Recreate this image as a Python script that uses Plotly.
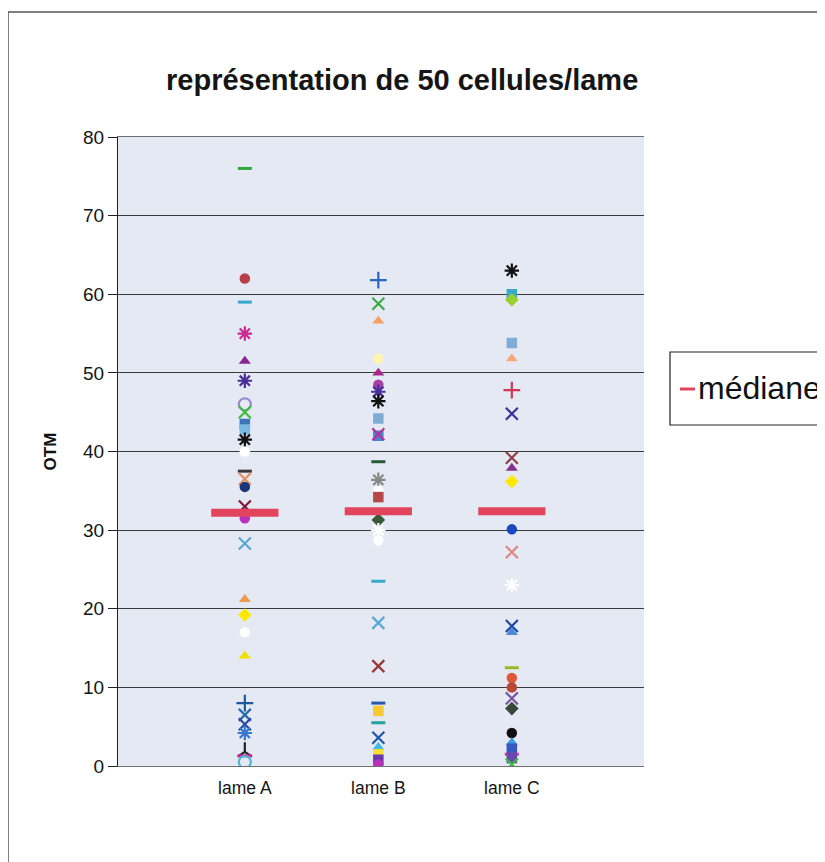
import plotly.graph_objects as go

# ---------------- data ----------------
CATEGORIES = ["lame A", "lame B", "lame C"]
Y_TICKS = [0, 10, 20, 30, 40, 50, 60, 70, 80]
MEDIAN_LABEL = "médiane"
MEDIANS = [32.2, 32.4, 32.4]

LAME_A = [76.0, 62.0, 59.0, 55.0, 51.5, 49.0, 46.0, 45.0, 43.5, 42.8, 41.5, 40.0,
          37.5, 36.5, 35.5, 33.0, 31.5, 28.3, 21.2, 19.2, 17.0, 14.0, 8.0, 6.5,
          5.3, 4.2, 1.8, 1.3, 0.5]
LAME_B = [61.8, 58.8, 56.6, 51.8, 50.0, 48.5, 47.6, 46.4, 44.2, 42.0, 42.2, 38.7,
          36.4, 35.0, 34.2, 31.3, 30.0, 28.7, 23.5, 18.2, 12.7, 8.0, 7.0, 5.5,
          3.6, 2.4, 1.5, 0.8, 0.2]
LAME_C = [63.0, 60.0, 59.3, 53.8, 51.8, 47.8, 44.8, 39.2, 37.9, 36.2, 30.1, 27.2,
          23.0, 17.8, 17.0, 12.5, 11.2, 10.0, 8.6, 7.3, 4.2, 3.0, 2.2, 1.5, 1.0, 0.2]

# ---------------- styles (parallel to the value lists) ----------------
SYM_A = ["line-ew-open", "circle", "line-ew-open", "asterisk-open", "triangle-up",
         "asterisk-open", "circle-open", "x-thin-open", "square", "square",
         "asterisk-open", "circle", "line-ew-open", "x-thin-open", "circle",
         "x-thin-open", "circle", "x-thin-open", "triangle-up", "diamond", "circle",
         "triangle-up", "cross-thin-open", "x-thin-open", "x-thin-open",
         "asterisk-open", "y-up-open", "line-ew-open", "circle-open"]
COL_A = ["#2fa83a", "#b8404a", "#3aa8c8", "#cc2a90", "#8a2590",
         "#4a2e98", "#9a8ad0", "#3cbc3c", "#3f74b8", "#7ab8e0",
         "#111111", "#ffffff", "#383838", "#e09060", "#1a3578",
         "#80183a", "#bb30bb", "#5aa8d0", "#f09a50", "#ffe800", "#ffffff",
         "#f0e000", "#1a58a0", "#2a68b0", "#2a48a0",
         "#3a78d0", "#222222", "#cc2a90", "#4ab8da"]

SYM_B = ["cross-thin-open", "x-thin-open", "triangle-up", "circle", "triangle-up",
         "circle", "asterisk-open", "asterisk-open", "square", "square",
         "x-thin-open", "line-ew-open", "asterisk-open", "circle", "square",
         "diamond", "asterisk-open", "circle", "line-ew-open", "x-thin-open",
         "x-thin-open", "line-ew-open", "square", "line-ew-open", "x-thin-open",
         "triangle-up", "square", "square", "circle"]
COL_B = ["#2a68c0", "#3caa44", "#f4a068", "#fff4b0", "#a82888",
         "#a840a8", "#4a2e98", "#111111", "#80acd4", "#4088d0",
         "#bb3098", "#285a38", "#888888", "#ffffff", "#b84848",
         "#385838", "#ffffff", "#ffffff", "#3aa8c8", "#5aa8d8",
         "#983838", "#2a58b0", "#f8c830", "#28a0a0", "#1a58b0",
         "#40b8e8", "#f8e030", "#6838b0", "#bb30bb"]

SYM_C = ["asterisk-open", "square", "diamond", "square", "triangle-up",
         "cross-thin-open", "x-thin-open", "x-thin-open", "triangle-up", "diamond",
         "circle", "x-thin-open", "asterisk-open", "x-thin-open", "triangle-up",
         "line-ew-open", "circle", "circle", "x-thin-open", "diamond",
         "circle", "triangle-up", "square", "line-ew-open", "square", "x-thin-open"]
COL_C = ["#111111", "#3aa8c8", "#98d030", "#80acd8", "#f8a878",
         "#d03858", "#42309a", "#904048", "#883090", "#ffe800",
         "#1a48c0", "#e08888", "#ffffff", "#1a4aa0", "#5088d8",
         "#98b828", "#e05838", "#b84838", "#7858a0", "#384838",
         "#111111", "#3898e0", "#3858c0", "#d03898", "#6848b0", "#38bb38"]

MEDIAN_COLOR = "#e2445e"

# ---------------- geometry (page body has an 8px margin) ----------------
OFF = 8
W, H = 825 - OFF, 862 - OFF
L, R, T, B = 118 - OFF, 644 - OFF, 137 - OFF, 766 - OFF
pw, ph = R - L, B - T


def px_x(x):
    return (x - OFF - L) / pw


def px_y(y):
    return 1 - (y - OFF - T) / ph


fig = go.Figure()


def add_lame(pos, values, symbols, colors):
    sizes, widths = [], []
    for s in symbols:
        if s == "line-ew-open":
            sizes.append(10)
            widths.append(3)
        elif s.endswith("-open"):
            sizes.append(12)
            widths.append(2.2)
        else:
            sizes.append(10.5)
            widths.append(0)
    fig.add_trace(go.Scatter(
        x=[pos] * len(values), y=values, mode="markers", showlegend=False,
        hoverinfo="y",
        marker=dict(symbol=symbols, color=colors, size=sizes, opacity=1,
                    line=dict(width=widths, color=colors)),
    ))


for i, (vals, syms, cols) in enumerate([(LAME_A, SYM_A, COL_A),
                                        (LAME_B, SYM_B, COL_B),
                                        (LAME_C, SYM_C, COL_C)]):
    add_lame(i + 1, vals, syms, cols)

fig.add_trace(go.Scatter(
    x=[1, 2, 3], y=MEDIANS, mode="markers", name=MEDIAN_LABEL, showlegend=False,
    marker=dict(symbol="line-ew-open", size=48, color=MEDIAN_COLOR, opacity=1,
                line=dict(width=8, color=MEDIAN_COLOR)),
))

fig.update_layout(
    width=W, height=H,
    margin=dict(l=L, r=W - R, t=T, b=H - B, autoexpand=False),
    paper_bgcolor="white",
    plot_bgcolor="#e4e9f3",
    font=dict(family="Liberation Sans, Arial, sans-serif", color="#111111"),
    showlegend=False,
    xaxis=dict(range=[0.05, 3.99], tickmode="array", tickvals=[1, 2, 3],
               ticktext=CATEGORIES, ticks="", showgrid=False, zeroline=False,
               showline=True, linecolor="#707070", linewidth=1, mirror=True,
               ticklabelstandoff=6,
               tickfont=dict(size=17.5, color="#151515")),
    yaxis=dict(range=[0, 80], tickmode="array", tickvals=Y_TICKS,
               ticks="outside", ticklen=9, tickcolor="#222222",
               showgrid=True, gridcolor="#3a3a3a", gridwidth=1, zeroline=False,
               showline=True, linecolor="#222222", linewidth=1.2,
               tickfont=dict(size=19, color="#151515"),
               title=dict(text="<b>OTM</b>", font=dict(size=17), standoff=22)),
    shapes=[
        # outer chart-area frame
        dict(type="rect", xref="paper", yref="paper",
             x0=px_x(8), x1=px_x(870), y0=px_y(900), y1=px_y(12),
             line=dict(color="#555555", width=1.5), fillcolor="rgba(0,0,0,0)",
             layer="below"),
        # legend box
        dict(type="rect", xref="paper", yref="paper",
             x0=px_x(670), x1=px_x(860), y0=px_y(425), y1=px_y(352),
             line=dict(color="#222222", width=1.2), fillcolor="white"),
        # legend symbol
        dict(type="line", xref="paper", yref="paper",
             x0=px_x(680), x1=px_x(695), y0=px_y(389), y1=px_y(389),
             line=dict(color=MEDIAN_COLOR, width=3)),
    ],
    annotations=[
        dict(text="<b>représentation de 50 cellules/lame</b>", xref="paper",
             yref="paper", x=px_x(402), y=px_y(80), xanchor="center",
             yanchor="middle", showarrow=False,
             font=dict(size=29, color="#151515")),
        dict(text=MEDIAN_LABEL, xref="paper", yref="paper",
             x=px_x(696), y=px_y(388), xanchor="left", yanchor="middle",
             showarrow=False, font=dict(size=32, color="#111111")),
    ],
)

fig.write_html("out.html")
